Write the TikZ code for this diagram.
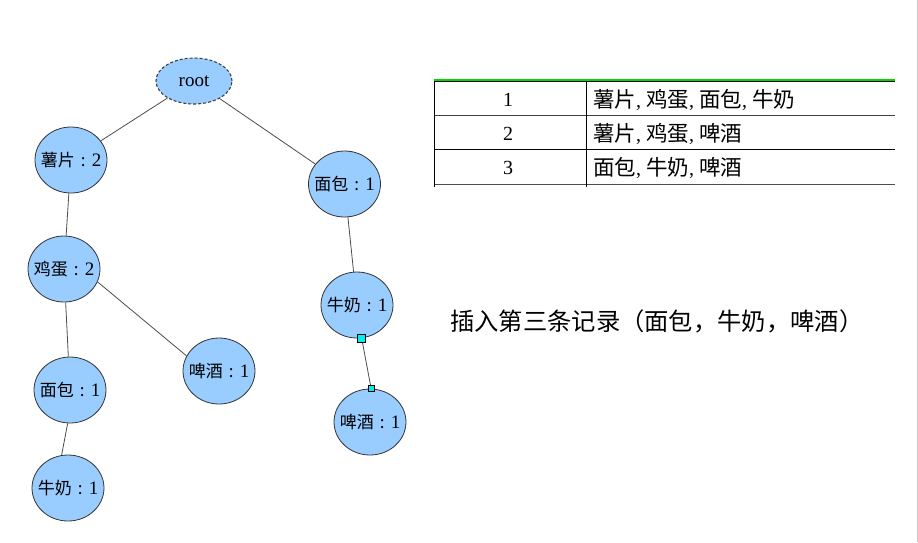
\documentclass[tikz,border=0pt]{standalone}
\usepackage{fontspec}
\setmainfont{Liberation Serif}
\newfontfamily\cjk{Noto Sans CJK SC}
\usetikzlibrary{shapes.geometric}
\definecolor{nodeblue}{HTML}{99CCFF}
\definecolor{tgreen}{HTML}{00D800}
\definecolor{hcyan}{HTML}{00F0F0}
\newcommand{\ndtxt}[2]{\makebox[0pt][c]{{\cjk\fontsize{17}{20}\selectfont #1\makebox[17pt][c]{:}}{\fontsize{19}{20}\selectfont #2}}}
\newcommand{\tbc}[1]{{\cjk\fontsize{21.5}{22}\selectfont #1}}
\begin{document}
\begin{tikzpicture}[x=1pt,y=-1pt,
  item/.style={ellipse,draw=black!80,fill=nodeblue,line width=0.8pt,minimum width=72pt,minimum height=66pt,inner sep=0pt},
  link/.style={draw=black!70,line width=0.8pt},
  handle/.style={rectangle,draw=black,fill=hcyan,line width=0.6pt,inner sep=0pt,minimum size=#1},
  rowtxt/.style={inner sep=0pt,font=\fontsize{20}{22}\selectfont},
  tline/.style={line width=1pt}]
\useasboundingbox (0,0) rectangle (918,542);
\draw[black!22,line width=1.3pt] (917.3,0) -- (917.3,542);
% tree
\node[ellipse,draw=black!75,fill=nodeblue,line width=1.1pt,dash pattern=on 3pt off 2pt,minimum width=76pt,minimum height=46pt,inner sep=0pt,font=\fontsize{19}{20}\selectfont] (root) at (194,81) {\makebox[0pt][c]{root}};
\node[item] (chips) at (71,160) {\ndtxt{薯片}{2}};
\node[item] (egg) at (64,269) {\ndtxt{鸡蛋}{2}};
\node[item] (breadL) at (70,390) {\ndtxt{面包}{1}};
\node[item] (milkL) at (68,488) {\ndtxt{牛奶}{1}};
\node[item] (beerM) at (219,371) {\ndtxt{啤酒}{1}};
\node[item] (breadR) at (344.5,184) {\ndtxt{面包}{1}};
\node[item] (milkR) at (357,305) {\ndtxt{牛奶}{1}};
\node[item] (beerR) at (370,422) {\ndtxt{啤酒}{1}};
\draw[link] (root) -- (chips);
\draw[link] (root) -- (breadR);
\draw[link] (chips) -- (egg);
\draw[link] (egg) -- (breadL);
\draw[link] (egg.-21) -- (beerM.155);
\draw[link] (breadL.-94) -- (milkL.101);
\draw[link] (breadR) -- (milkR);
\draw[link] (milkR.-82) -- (beerR.88);
\node[handle=8pt] (h1) at (milkR.-82) {};
\node[handle=6pt] (h2) at (beerR.88) {};
% table
\draw[tgreen,line width=1.5pt] (434,80.2) -- (895,80.2);
\draw[black,line width=0.9pt] (434,81.8) -- (895,81.8);
\draw[tline,black!75] (434,115) -- (895,115);
\draw[tline,black] (434,149.5) -- (895,149.5);
\draw[tline,black!70] (434,184) -- (895,184);
\draw[tline] (434,81) -- (434,187);
\draw[tline] (586,81) -- (586,187);
\node[rowtxt] (n1) at (508,100) {1};
\node[rowtxt] (n2) at (508,134) {2};
\node[rowtxt] (n3) at (508,168) {3};
\node[rowtxt,anchor=west] (r1) at (593,100) {\tbc{薯片}, \tbc{鸡蛋}, \tbc{面包}, \tbc{牛奶}};
\node[rowtxt,anchor=west] (r2) at (593,134) {\tbc{薯片}, \tbc{鸡蛋}, \tbc{啤酒}};
\node[rowtxt,anchor=west] (r3) at (593,168) {\tbc{面包}, \tbc{牛奶}, \tbc{啤酒}};
\node[inner sep=0pt,anchor=west,font=\cjk\fontsize{24.3}{26}\selectfont] (cap) at (450,321) {插入第三条记录（面包，牛奶，啤酒）};
\end{tikzpicture}
\end{document}
